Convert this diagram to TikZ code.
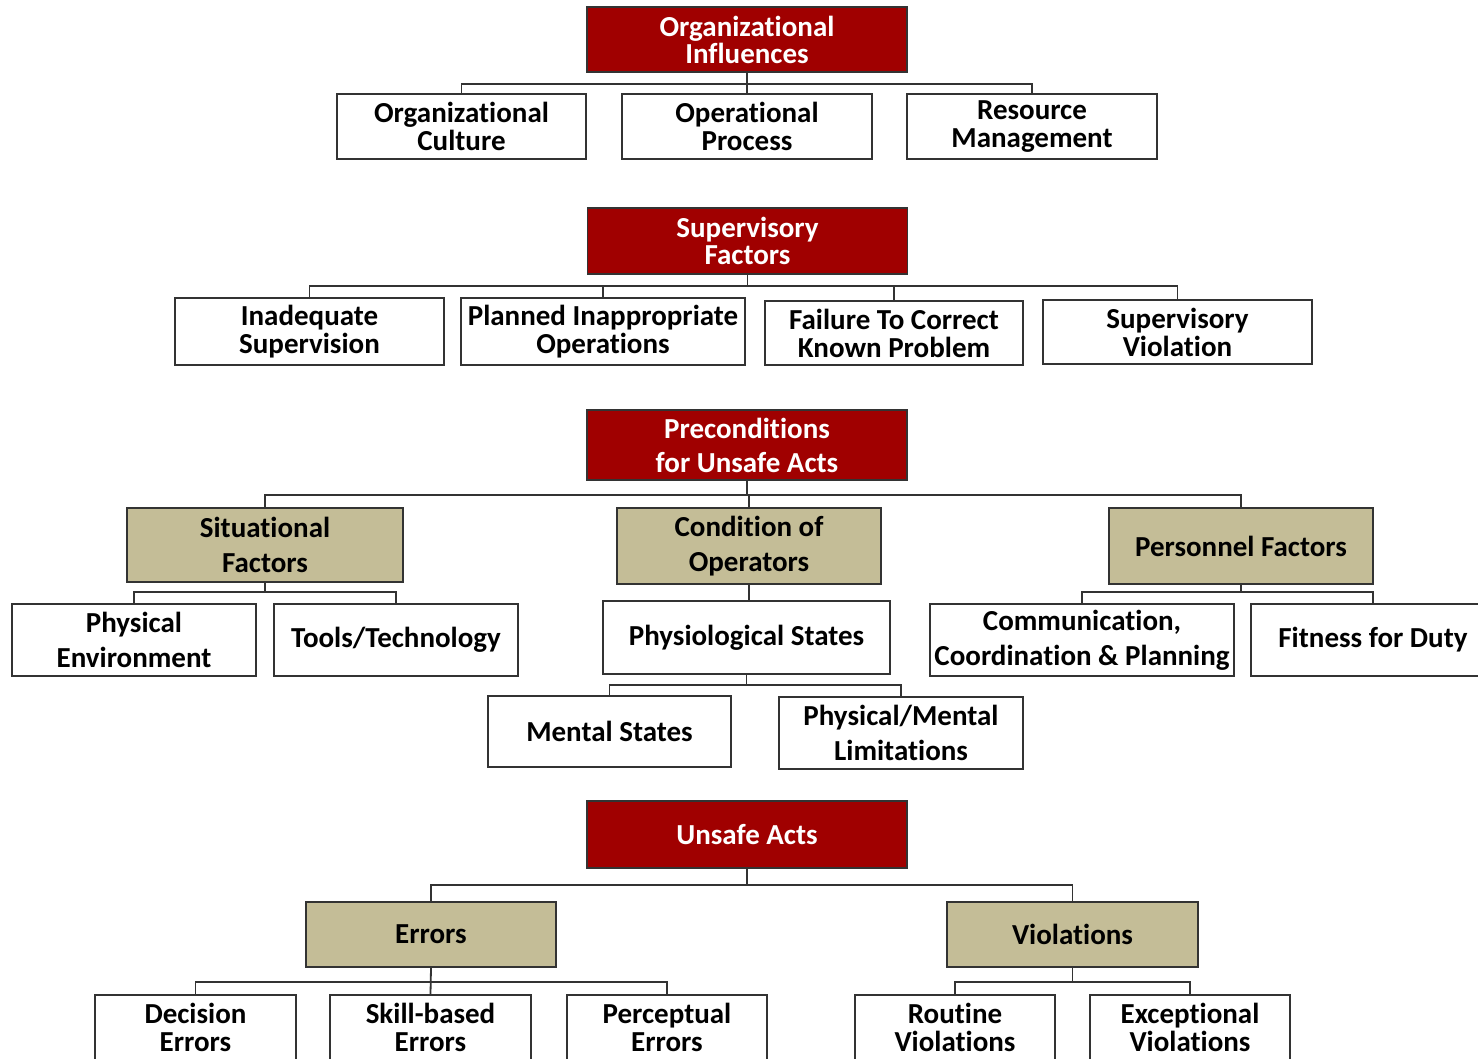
\documentclass[tikz,border=0pt]{standalone}
\usepackage{fontspec}
\setmainfont{Carlito}[Ligatures=NoCommon]
\usepackage{xcolor}
\usepackage{tikz}
\definecolor{hfred}{HTML}{A00000}
\definecolor{hftan}{HTML}{C4BD97}
\tikzstyle{tier} = [rectangle, draw=black!80, line width=1.8pt, fill=hfred, text=white, align=center, minimum width=320pt, inner sep=0pt, font=\bfseries\fontsize{29}{27}\selectfont]
\tikzstyle{group} = [rectangle, draw=black!80, line width=1.8pt, fill=hftan, align=center, inner sep=0pt, font=\bfseries\fontsize{29}{35}\selectfont]
\tikzstyle{leaf} = [rectangle, draw=black!80, line width=1.8pt, fill=white, align=center, inner sep=0pt, font=\bfseries\fontsize{29}{28}\selectfont]
\tikzstyle{link} = [draw=black!80, line width=1.8pt]

\begin{document}
\begin{tikzpicture}[x=1pt, y=-1pt]
\useasboundingbox (0,0) rectangle (1478,1058);
\clip (0,0) rectangle (1478,1058);

% organizational influences
\node (orginf) [tier, minimum height=65pt] at (747,39.5) {Organizational\\Influences};
\node (culture) [leaf, minimum width=249pt, minimum height=65pt] at (461.5,126.5) {Organizational\\Culture};
\node (process) [leaf, minimum width=250pt, minimum height=65pt] at (747,126.5) {Operational\\Process};
\node (resource) [leaf, minimum width=250pt, minimum height=65pt] at (1032,126.5) {Resource\\Management};

\coordinate (orgbar) at (747,84);
\draw [link] (orginf.south) -- (process.north);
\draw [link] (orgbar) -| (culture.north);
\draw [link] (orgbar) -| (resource.north);

% supervisory factors
\node (supfac) [tier, minimum height=66pt] at (747.5,241) {Supervisory\\Factors};
\node (inadeq) [leaf, minimum width=269pt, minimum height=67pt] at (309.5,331.5) {Inadequate\\Supervision};
\node (planned) [leaf, minimum width=284pt, minimum height=67pt] at (603,331.5) {Planned Inappropriate\\Operations};
\node (failure) [leaf, minimum width=258pt, minimum height=64pt] at (894,333) {Failure To Correct\\Known Problem};
\node (supviol) [leaf, minimum width=269pt, minimum height=64pt] at (1177.5,332) {Supervisory\\Violation};

\coordinate (supbar) at (747.5,286);
\draw [link] (supfac.south) -- (supbar);
\draw [link] (supbar) -| (inadeq.north);
\draw [link] (supbar) -| (planned.north);
\draw [link] (supbar) -| (failure.north);
\draw [link] (supbar) -| (supviol.north);

% preconditions for unsafe acts
\node (precond) [tier, minimum height=70pt, font=\bfseries\fontsize{29}{34}\selectfont] at (747,445) {Preconditions\\for Unsafe Acts};
\node (situat) [group, minimum width=276pt, minimum height=74pt] at (265,545) {Situational\\Factors};
\node (condop) [group, minimum width=264pt, minimum height=76pt] at (749,546) {Condition of\\Operators};
\node (person) [group, minimum width=264pt, minimum height=76pt] at (1241,546) {Personnel Factors};

\coordinate (prebar) at (747,495);
\draw [link] (precond.south) -- (prebar);
\draw [link] (prebar) -| (situat.north);
\draw [link] (prebar) -| (condop.north);
\draw [link] (prebar) -| (person.north);

\node (physenv) [leaf, minimum width=244pt, minimum height=72pt, font=\bfseries\fontsize{29}{35}\selectfont] at (134,640) {Physical\\Environment};
\node (tools) [leaf, minimum width=244pt, minimum height=72pt] at (396,640) {Tools/Technology};
\node (physio) [leaf, minimum width=287pt, minimum height=73pt] at (746.5,637.5) {Physiological States};
\node (commun) [leaf, minimum width=304pt, minimum height=72pt, font=\bfseries\fontsize{29}{35}\selectfont] at (1082,640) {Communication,\\Coordination \& Planning};
\node (fitness) [leaf, minimum width=244pt, minimum height=72pt] at (1373,640) {Fitness for Duty};

\coordinate (sitbar) at (265,592);
\draw [link] (situat.south) -- (sitbar);
\draw [link] (sitbar) -| (physenv.north);
\draw [link] (sitbar) -| (tools.north);
\draw [link] (condop.south) -- (condop.south |- physio.north);
\coordinate (perbar) at (1241,592);
\draw [link] (person.south) -- (perbar);
\draw [link] (perbar) -| (commun.north);
\draw [link] (perbar) -| (fitness.north);

\node (mental) [leaf, minimum width=243pt, minimum height=71pt] at (609.5,731.5) {Mental States};
\node (limits) [leaf, minimum width=244pt, minimum height=72pt, font=\bfseries\fontsize{29}{35}\selectfont] at (901,733) {Physical/Mental\\Limitations};

\coordinate (phybar) at (746.5,685);
\draw [link] (physio.south) -- (phybar);
\draw [link] (phybar) -| (mental.north);
\draw [link] (phybar) -| (limits.north);

% unsafe acts
\node (unsafe) [tier, minimum height=67pt] at (747,834.5) {Unsafe Acts};
\node (errors) [group, minimum width=250pt, minimum height=65pt] at (431,934.5) {Errors};
\node (viol) [group, minimum width=251pt, minimum height=65pt] at (1072.5,934.5) {Violations};

\coordinate (unsbar) at (747,885);
\draw [link] (unsafe.south) -- (unsbar);
\draw [link] (unsbar) -| (errors.north);
\draw [link] (unsbar) -| (viol.north);

\node (decision) [leaf, minimum width=201pt, minimum height=65pt] at (195.5,1027.5) {Decision\\Errors};
\node (skill) [leaf, minimum width=201pt, minimum height=65pt] at (430.5,1027.5) {Skill-based\\Errors};
\node (percept) [leaf, minimum width=200pt, minimum height=65pt] at (667,1027.5) {Perceptual\\Errors};
\node (routine) [leaf, minimum width=200pt, minimum height=65pt] at (955,1027.5) {Routine\\Violations};
\node (except) [leaf, minimum width=200pt, minimum height=65pt] at (1190,1027.5) {Exceptional\\Violations};

\coordinate (errbar) at (431,982);
\draw [link] (errors.south) -- (skill.north);
\draw [link] (errbar) -| (decision.north);
\draw [link] (errbar) -| (percept.north);
\coordinate (viobar) at (1072.5,982);
\draw [link] (viol.south) -- (viobar);
\draw [link] (viobar) -| (routine.north);
\draw [link] (viobar) -| (except.north);

\end{tikzpicture}
\end{document}
